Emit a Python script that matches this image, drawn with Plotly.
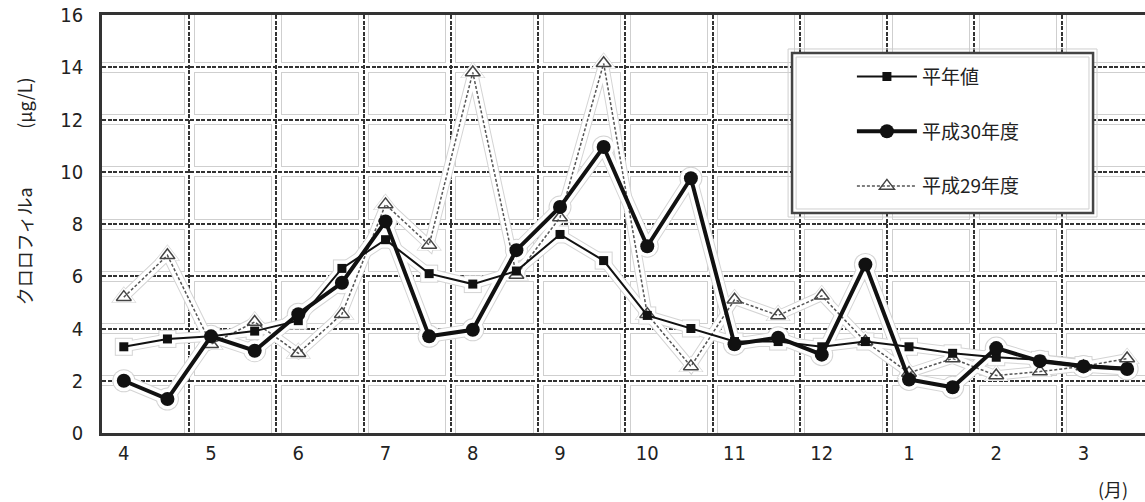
import numpy as np
import plotly.graph_objects as go

# Half-monthly chlorophyll-a (μg/L), April through March
months = ["4", "5", "6", "7", "8", "9", "10", "11", "12", "1", "2", "3"]
normal_vals = [3.3, 3.6, 3.7, 3.9, 4.3, 6.3, 7.4, 6.1, 5.7, 6.2, 7.6, 6.6,
               4.5, 4.0, 3.5, 3.5, 3.3, 3.5, 3.3, 3.05, 2.9, 2.8, 2.6, 2.5]
h30_vals = [2.0, 1.3, 3.7, 3.15, 4.55, 5.75, 8.1, 3.7, 3.95, 7.0, 8.65, 10.95,
            7.15, 9.75, 3.4, 3.65, 3.0, 6.45, 2.05, 1.75, 3.25, 2.75, 2.55, 2.45]
h29_vals = [5.2, 6.8, 3.4, 4.25, 3.05, 4.55, 8.75, 7.2, 13.8, 6.05, 8.25, 14.15,
            4.55, 2.55, 5.1, 4.5, 5.25, 3.5, 2.3, 2.85, 2.2, 2.35, 2.55, 2.85]
y_ticks = list(range(0, 17, 2))

x_idx = np.arange(len(normal_vals))          # one slot per half month
month_pos = x_idx[::2]                        # label at first half of each month
bounds = month_pos[1:] - 0.5                  # month boundaries for the grid
X_RANGE = [-0.5, 23.41]

TICK_FONT = dict(family="Liberation Sans Narrow, DejaVu Sans Condensed, sans-serif",
                 size=20, color="#222")
JP_FONT = "Noto Sans CJK JP, sans-serif"

series = [
    # name, values, line style, marker style, legend rank
    ("平成29年度", h29_vals, dict(color="#555", width=1.5, dash="3px,2px"),
     dict(symbol="triangle-up-open", size=13, color="#444", line=dict(width=1.5, color="#444")), 3),
    ("平年値", normal_vals, dict(color="#111", width=2),
     dict(symbol="square", size=9, color="#111"), 1),
    ("平成30年度", h30_vals, dict(color="#111", width=4),
     dict(symbol="circle", size=14, color="#111"), 2),
]

fig = go.Figure()

# soft light halo around each line: grey band, then white band, then the line
for colr, extra in (("#d4d4d4", 9), ("#ffffff", 7)):
    for name, vals, ln, mk, rank in series:
        sym = mk["symbol"].replace("-open", "")
        fig.add_trace(go.Scatter(
            x=x_idx, y=vals, mode="lines+markers", showlegend=False, hoverinfo="skip",
            line=dict(color=colr, width=ln["width"] + extra),
            marker=dict(symbol=sym, size=mk["size"] + extra, color=colr)))

for name, vals, ln, mk, rank in series:
    fig.add_trace(go.Scatter(
        x=x_idx, y=vals, name=name, mode="lines+markers",
        line=ln, marker=mk, legendrank=rank, legendgroup=name))

# empty traces carrying the stacked grid axes
for k in (2, 3, 4):
    fig.add_trace(go.Scatter(x=[], y=[], xaxis=f"x{k}", yaxis=f"y{k}",
                             showlegend=False, hoverinfo="skip"))

grid_styles = {2: dict(gridcolor="#cfcfcf", gridwidth=11),
               3: dict(gridcolor="#ffffff", gridwidth=9),
               4: dict(gridcolor="#333333", gridwidth=2, griddash="4px,1.5px")}

layout_axes = {}
for k, gs in grid_styles.items():
    layout_axes[f"xaxis{k}"] = dict(overlaying="x", range=X_RANGE, tickmode="array",
                                    tickvals=list(bounds), showticklabels=False,
                                    showgrid=True, zeroline=False, showline=False,
                                    ticks="", **gs)
    layout_axes[f"yaxis{k}"] = dict(overlaying="y", range=[0, 16], tickmode="array",
                                    tickvals=y_ticks, showticklabels=False,
                                    showgrid=True, zeroline=False, showline=False,
                                    ticks="", **gs)

fig.update_layout(
    width=1145, height=502,
    margin=dict(l=102, r=0, t=15, b=69),
    paper_bgcolor="white", plot_bgcolor="white",
    showlegend=True,
    xaxis=dict(range=X_RANGE, tickmode="array", tickvals=list(month_pos), ticktext=months,
               showgrid=False, zeroline=False, showline=True, linecolor="#333",
               linewidth=2.5, mirror=True, ticks="", tickfont=TICK_FONT,
               ticklabelstandoff=0),
    yaxis=dict(range=[0, 16], tickmode="array", tickvals=y_ticks,
               showgrid=False, zeroline=False, showline=True, linecolor="#333",
               linewidth=2.5, ticks="", tickfont=TICK_FONT, ticklabelstandoff=12),
    legend=dict(x=0.719, y=0.898, xanchor="left", yanchor="top",
                bgcolor="rgba(0,0,0,0)", borderwidth=0, traceorder="grouped",
                tracegroupgap=27, itemwidth=60,
                font=dict(family=JP_FONT, size=19, color="#222")),
    **layout_axes,
)

# legend frame
fig.add_shape(type="rect", xref="paper", yref="paper", layer="above",
              x0=0.6616, x1=0.9502, y0=0.5263, y1=0.9091,
              fillcolor="white", line=dict(color="#444", width=2.5))
fig.add_shape(type="rect", xref="paper", yref="paper", layer="above",
              x0=0.6578, x1=0.9540, y0=0.5167, y1=0.9187,
              fillcolor="rgba(0,0,0,0)", line=dict(color="#cfcfcf", width=1))
fig.add_shape(type="rect", xref="paper", yref="paper", layer="above",
              x0=0.6655, x1=0.9463, y0=0.5359, y1=0.8995,
              fillcolor="rgba(0,0,0,0)", line=dict(color="#cfcfcf", width=1))

# axis titles
title_font = dict(family=JP_FONT, size=18, color="#222")
fig.add_annotation(text="(μg/L)", xref="paper", yref="paper", x=-0.0748, y=0.79,
                   xanchor="center", yanchor="middle", textangle=-90,
                   showarrow=False, font=title_font)
fig.add_annotation(text="クロロフィルa", xref="paper", yref="paper", x=-0.0748, y=0.447,
                   xanchor="center", yanchor="middle", textangle=-90,
                   showarrow=False, font=title_font)
fig.add_annotation(text="(月)", xref="paper", yref="paper", x=0.969, y=-0.134,
                   xanchor="center", yanchor="middle", showarrow=False, font=title_font)

fig.write_html("out.html")
